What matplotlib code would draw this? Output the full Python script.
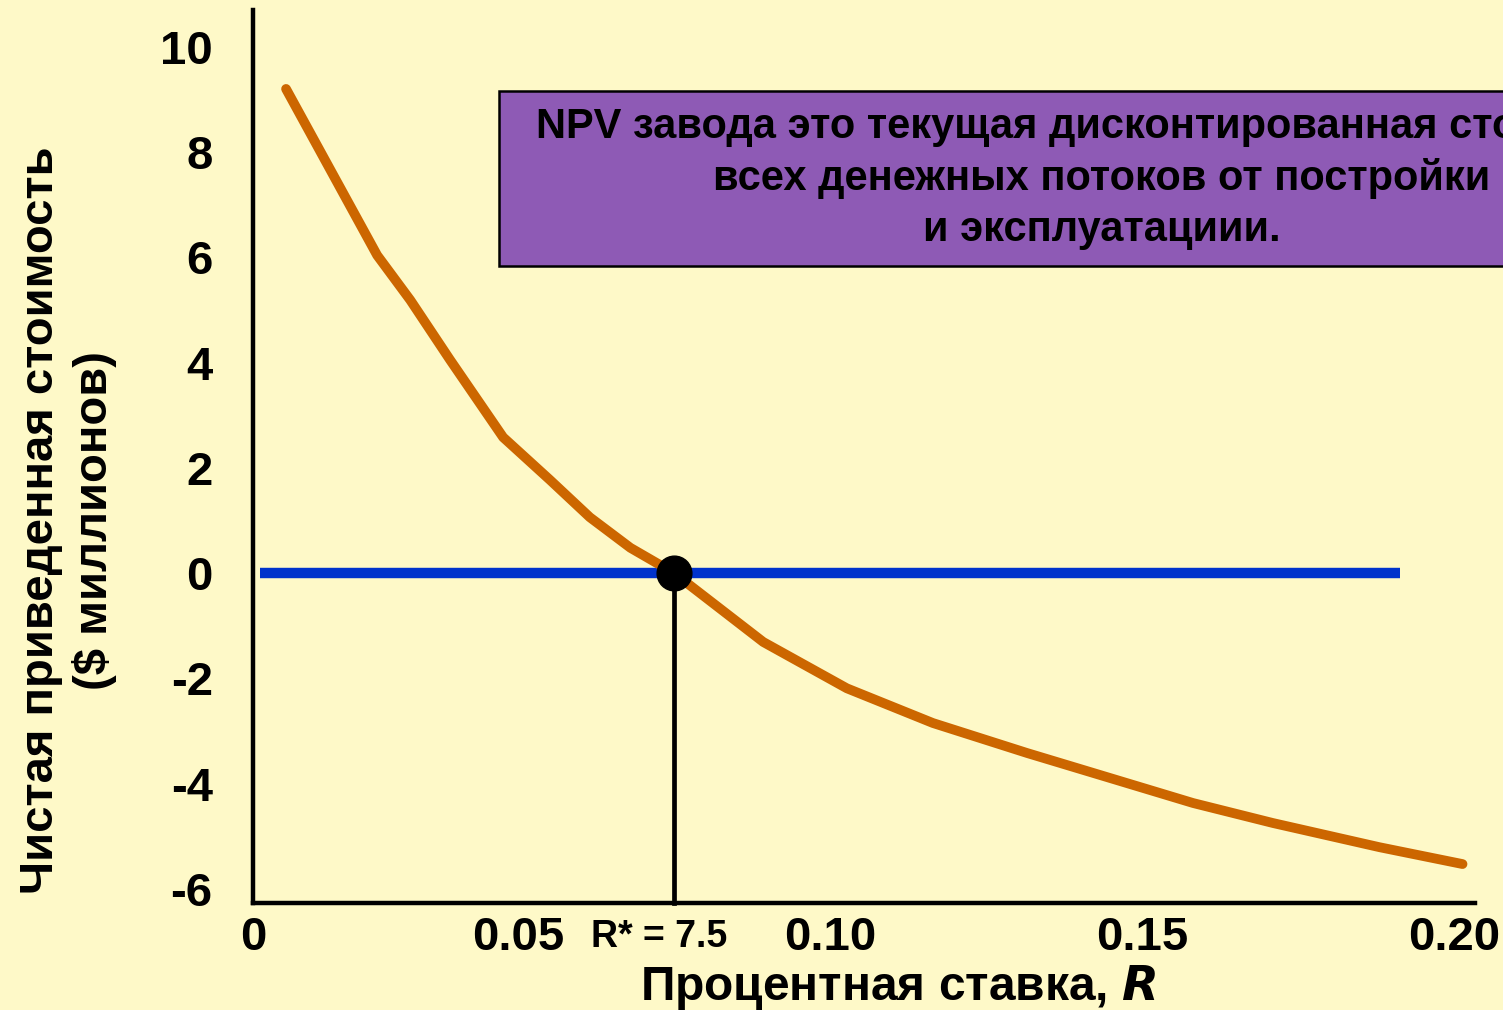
import matplotlib
matplotlib.use("Agg")
import matplotlib.pyplot as plt
from matplotlib.patches import Rectangle

plt.rcParams['font.family'] = ['Liberation Sans', 'DejaVu Sans']
plt.rcParams['font.weight'] = 'bold'

# ---- data ----
rate = [0.0128, 0.0274, 0.0327, 0.0391, 0.0476, 0.0551, 0.0615, 0.0680, 0.075,
        0.0893, 0.1027, 0.1165, 0.1316, 0.1582, 0.1710, 0.1881, 0.2014]
npv = [9.20, 6.04, 5.19, 4.05, 2.58, 1.77, 1.06, 0.48, 0.0,
       -1.31, -2.19, -2.85, -3.42, -4.37, -4.75, -5.21, -5.53]
zero_line_x = [0.0086, 0.1913]
zero_line_y = [0, 0]
r_star = 0.075
x_ticks = [0.0075, 0.05, 0.10, 0.15, 0.20]
x_tick_labels = ['0', '0.05', '0.10', '0.15', '0.20']
y_ticks = [-6, -4, -2, 0, 2, 4, 6, 8, 10]
y_tick_labels = ['-6', '-4', '-2', '0', '2', '4', '6', '8', '10']
box_text = ("NPV завода это текущая дисконтированная стоимость\n"
            "всех денежных потоков от постройки\n"
            "и эксплуатациии.")
r_star_label = "R* = 7.5"

BG = '#FEF9C8'
W, H = 1503, 1010
fig = plt.figure(figsize=(W / 100, H / 100), dpi=100, facecolor=BG)
ax = fig.add_axes([253 / W, (H - 903) / H, (1475 - 253) / W, (903 - 10) / H])
ax.set_facecolor(BG)

ax.plot(zero_line_x, zero_line_y, color='#0033CC', lw=7.5, solid_capstyle='butt', zorder=3)
ax.plot(rate, npv, color='#CC6600', lw=7, solid_capstyle='round',
        solid_joinstyle='round', zorder=4)
ax.plot([r_star, r_star], [-6.27, 0], color='black', lw=3.4, zorder=5, clip_on=False)
ax.plot([r_star], [0], 'o', color='black', markersize=25, zorder=6)

ax.set_xlim(0.0075, 0.2034)
ax.set_ylim(-6.27, 10.70)
for s in ['top', 'right']:
    ax.spines[s].set_visible(False)
for s in ['left', 'bottom']:
    ax.spines[s].set_linewidth(3.2)
    ax.spines[s].set_color('black')

ax.set_xticks(x_ticks)
ax.set_xticklabels(x_tick_labels)
ax.set_yticks(y_ticks)
ax.set_yticklabels(y_tick_labels)
ax.tick_params(axis='both', length=0, labelsize=34)
ax.tick_params(axis='y', pad=29)
ax.tick_params(axis='x', pad=9)
for lab in ax.get_xticklabels() + ax.get_yticklabels():
    lab.set_fontweight('bold')

# R* label
fig.text(659 / W, (H - 937) / H, r_star_label, ha='center', va='center',
         fontsize=27, fontweight='bold')

# x label
fig.text(898 / W, (H - 1000) / H, r"Процентная ставка, $\mathbfit{R}$", ha='center',
         va='baseline', fontsize=34.5, fontweight='bold')

# y label
fig.text(68 / W, 490 / H, "Чистая приведенная стоимость\n($ миллионов)",
         rotation=90, ha='center', va='center', fontsize=34, fontweight='bold',
         multialignment='center', linespacing=1.25)

# purple box
rect = Rectangle((499 / W, (H - 266) / H), 1200 / W, 175 / H, transform=fig.transFigure,
                 facecolor='#8E5AB5', edgecolor='black', lw=1.8, zorder=10)
fig.add_artist(rect)
fig.text(1102 / W, (H - 178.5) / H, box_text, ha='center', va='center',
         multialignment='center', fontsize=30, fontweight='bold', linespacing=1.34,
         zorder=11)

fig.savefig('out.png', dpi=100, facecolor=BG)
